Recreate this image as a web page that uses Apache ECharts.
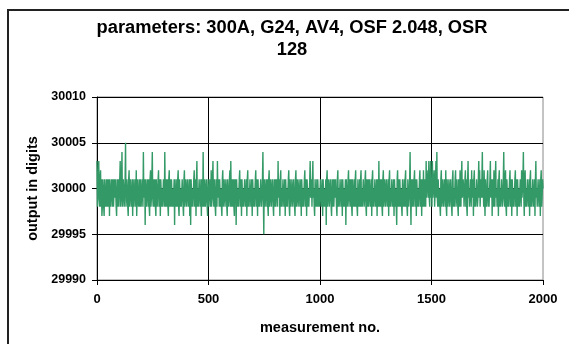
<!DOCTYPE html>
<html>
<head>
<meta charset="utf-8">
<title>parameters: 300A, G24, AV4, OSF 2.048, OSR 128</title>
<script src="https://cdn.jsdelivr.net/npm/echarts@6/dist/echarts.min.js"></script>
<style>
  html, body { margin: 0; padding: 0; background: #fff; }
  #chart { width: 569px; height: 344px; }
</style>
</head>
<body>
<div id="chart"></div>
<script>
// readings as deviation from 30000 digits
const baseline = 30000
const step = 2
// measurements 0, 4, 8 ... 2000
const deviationsEven = [
  3, -1, 3, -2, 2, 1, -2, 0, -3, 1, -1, -2, 1, 0, -3, 1, -2, 0, 1, -2, -1, 1, -3, 0, 1,
  -2, 3, -1, 4, -2, 1, -2, 5, -1, 0, -3, 2, -2, 1, -1, -3, 1, -2, 0, 2, -3, 1, -1, -2, 1,
  -2, 1, 4, -1, -4, 1, -2, 0, 1, -3, 2, -1, 4, -2, 0, 1, -3, 1, -2, 2, -1, -3, 1, 0, -2,
  1, 4, -2, 0, 1, -3, 2, -1, -2, 1, 0, -2, -4, 1, -1, -2, 2, -3, 1, 0, -2, 1, -3, 2, -1,
  0, -2, 1, -1, -3, -4, 1, 0, -2, 2, -1, -3, 3, 0, -2, 1, -1, -3, 1, 4, -2, 0, -1, 1, -3,
  1, -2, 0, 2, -1, 3, -2, 1, -3, 0, 3, -1, -2, 1, 0, -3, 2, -1, 1, -2, 0, -3, 1, -1, 2,
  3, -2, 0, 1, -3, -1, -4, 1, 0, -2, 2, -1, -3, 1, 0, -2, 1, -1, -3, 2, 0, -2, 1, -1, -3,
  1, 0, -2, 2, -1, -3, 1, 0, -2, 1, -1, 4, -5, 1, -2, 0, 1, -3, 2, -1, 0, -2, 1, -3, 0,
  1, -2, 0, 3, -1, -3, 2, 0, -2, 1, -1, -3, 1, 0, -2, 2, -3, 1, -1, 0, -2, 1, -3, 2, -1,
  0, -2, 1, -1, -3, 1, 0, -2, 2, -1, -3, 1, 0, -2, 3, -1, -2, 3, 0, -3, 1, -1, -2, 1, 0,
  -2, 1, -1, -3, 1, 0, -2, -4, 2, -1, 0, -2, 1, -3, 0, 1, -2, -1, 1, -3, 2, 0, -2, 1, -1,
  -3, 1, 0, -2, -4, 1, -1, 2, -2, 0, 1, -3, 1, -1, -2, 2, 0, -3, 1, -1, -2, 2, 0, -2, 1,
  -1, 2, -3, 0, 1, -2, 1, -1, -3, 2, 0, -2, 1, -1, -3, 1, 3, -2, 0, 1, -3, 2, -1, 0, -2,
  1, -1, -3, 2, 0, -2, 1, -1, -3, 1, 0, -4, 2, -1, -2, 1, 0, -3, 1, -1, -2, 2, 0, -3, 1,
  -1, 4, -4, 0, 1, -2, 2, -1, -3, 1, 0, -2, 2, -1, -3, 1, 2, -2, 0, 3, -1, 2, 3, -2, 3,
  1, 3, -1, 2, -2, 3, 4, -2, 1, 0, -3, 2, -1, 1, -2, 0, 2, -3, 1, -1, 0, -2, 1, -3, 2,
  0, -2, 2, -1, 1, -3, 0, 2, -2, 3, -1, 0, -2, 2, 1, -3, 3, 0, -2, 1, 2, -1, -3, 2, 0,
  -2, 1, -1, 3, 2, -2, -1, 4, 0, 2, -3, 1, -1, 2, 0, -2, 3, -1, -3, 1, 2, -2, 3, 0, -1,
  -3, 2, 0, -2, 1, -1, 4, -2, 2, -3, 1, 0, -2, 2, -1, -3, 1, 0, -2, 2, -1, -3, 1, 0, -2,
  1, 2, -1, 4, -3, 2, 0, -2, 1, -1, -3, 2, 0, -2, 1, -1, -3, 3, 0, -2, 1, -1, -3, 2, -1,
  0
]
// measurements 2, 6, 10 ... 1998
const deviationsOdd = [
  -2, 1, -1, 1, -2, -3, 1, -2, 1, -2, 1, 0, -2, 1, 1, -2, 1, -2, -2, 1, 1, -2, 1, -2, -2,
  1, -2, 1, -2, 1, -2, 1, -2, 1, -2, 1, -2, 1, -2, 1, 1, -2, 1, -2, -3, 1, -2, 1, 1, -2,
  1, -2, -1, 1, 1, -2, 1, -2, -2, 1, -2, 1, -1, 1, -2, -2, 1, -2, 1, -2, 1, 1, -2, -2, 1,
  -2, -1, 1, -2, -2, 1, -2, 1, 1, -2, -2, 1, 1, -2, 1, 1, -2, 1, -2, -2, 1, -2, 1, -2, 1,
  -2, 1, -2, 1, 1, 1, -2, -2, 1, -2, 1, 1, -2, -2, 1, -2, 1, 1, -2, -1, 1, -2, 1, -2, 1,
  -2, 1, -2, -2, 1, -1, 1, -2, 1, -2, -1, 1, 1, -2, -2, 1, -2, 1, -2, 1, -2, 1, -2, 1, -2,
  -1, 1, -2, -2, 1, 1, 1, -2, -2, 1, -2, 1, 1, -2, -2, 1, -2, 1, 1, -2, -2, 1, -2, 1, 1,
  -2, -2, 1, -2, 1, 1, -2, -2, 1, -2, 1, -1, 1, -2, 1, -2, -2, 1, -2, 1, -2, 1, -2, 1, -2,
  -2, 1, -2, -1, 1, 1, -2, -2, 1, -2, 1, 1, -2, -2, 1, -2, 1, -2, 1, -2, 1, -2, 1, -2, 1,
  -2, 1, -2, 1, 1, -2, -2, 1, -2, 1, 1, -2, -2, 1, -1, 1, 1, -1, -2, 1, -2, 1, 1, -2, -2,
  1, -2, 1, 1, -2, -2, 1, 1, -2, 1, -2, 1, -2, 1, -2, -2, 1, 1, -2, 1, -2, -2, 1, -2, 1,
  1, -2, -2, 1, 1, -2, 1, -2, 1, -2, -2, 1, -2, 1, 1, -2, -2, 1, -2, 1, 1, -2, -2, 1, -2,
  1, -2, 1, -2, -2, 1, -2, 1, 1, -2, -2, 1, -2, 1, 1, -2, -1, 1, -2, -2, 1, -2, 1, -2, 1,
  -2, 1, 1, -2, -2, 1, -2, 1, 1, -2, -2, 1, -2, 1, 1, -2, -2, 1, -2, 1, 1, -2, -2, 1, -2,
  1, -1, 1, -2, -2, 1, -2, 1, 1, -2, -2, 1, -2, 1, 1, -2, -1, 1, -2, -1, 1, -1, -1, 1, -1,
  -2, -1, 1, -2, 1, -1, -1, 1, -2, -2, 1, -2, 1, -2, 1, -2, -2, 1, -2, 1, -2, 1, -2, 1, -2,
  -2, 1, -2, 1, -2, 1, -2, -1, 1, -1, 1, -2, 1, -2, -2, 1, -1, -2, 1, -2, -1, 1, 1, -2, -2,
  1, -2, 1, -1, -2, 1, 1, -1, -2, -1, 1, -2, 1, -2, -2, 1, -1, 1, 1, -2, -1, 1, -1, -2, 1,
  1, -2, -2, 1, -2, 1, -1, 1, -2, 1, -2, -2, 1, -2, 1, 1, -2, -2, 1, -2, 1, 1, -2, -2, 1,
  -2, -1, 1, -1, 1, -2, -2, 1, -2, 1, 1, -2, -2, 1, -2, 1, 1, -1, -2, 1, -2, 1, 1, -2, 1
]
const yTicks = [29990, 29995, 30000, 30005, 30010]
const xTicks = [0, 500, 1000, 1500, 2000]

const font = 'Liberation Sans, Arial, sans-serif'
const myChart = echarts.init(document.getElementById('chart'))

// [measurement no., output], even and odd readings interleaved
const seriesData = []
for (let i = 0; i < deviationsEven.length; i++) {
  seriesData.push([i * 2 * step, baseline + deviationsEven[i]])
  if (i < deviationsOdd.length) {
    seriesData.push([(i * 2 + 1) * step, baseline + deviationsOdd[i]])
  }
}

const option = {
  animation: false,
  backgroundColor: '#fff',
  title: {
    text: 'parameters: 300A, G24, AV4, OSF 2.048, OSR\n128',
    left: 287,
    top: 12,
    textAlign: 'center',
    textStyle: {
      fontFamily: font,
      fontWeight: 'bold',
      fontSize: 18.3,
      lineHeight: 22,
      color: '#000'
    }
  },
  graphic: [
    {
      // outer chart frame, runs off the right and bottom of the picture
      type: 'rect',
      shape: { x: 8, y: 10, width: 620, height: 400 },
      style: { fill: 'none', stroke: '#222', lineWidth: 2 },
      silent: true
    }
  ],
  grid: {
    left: 97,
    top: 97,
    width: 446,
    height: 183,
    show: true,
    borderColor: '#888',
    borderWidth: 1
  },
  xAxis: {
    type: 'value',
    min: xTicks[0],
    max: xTicks[xTicks.length - 1],
    interval: 500,
    name: 'measurement no.',
    nameLocation: 'middle',
    nameGap: 40,
    nameTextStyle: { fontFamily: font, fontWeight: 'bold', fontSize: 14.5, color: '#000' },
    axisLine: { lineStyle: { color: '#000', width: 1 } },
    axisTick: { show: true, length: 5, lineStyle: { color: '#000' } },
    axisLabel: {
      fontFamily: font, fontWeight: 'bold', fontSize: 13, color: '#000', margin: 13,
      formatter: v => String(v)
    },
    splitLine: { show: true, showMinLine: false, showMaxLine: false, lineStyle: { color: '#000', width: 1 } }
  },
  yAxis: {
    type: 'value',
    min: yTicks[0],
    max: yTicks[yTicks.length - 1],
    interval: 5,
    name: 'output in digits',
    nameLocation: 'middle',
    nameGap: 51,
    nameRotate: 90,
    nameTextStyle: { fontFamily: font, fontWeight: 'bold', fontSize: 14.5, color: '#000' },
    axisLine: { show: true, lineStyle: { color: '#000', width: 1 } },
    axisTick: { show: true, length: 5, lineStyle: { color: '#000' } },
    axisLabel: {
      fontFamily: font, fontWeight: 'bold', fontSize: 12.5, color: '#000', margin: 11,
      formatter: v => String(v)
    },
    splitLine: { show: true, showMinLine: false, lineStyle: { color: '#000', width: 1 } }
  },
  series: [
    {
      type: 'line',
      data: seriesData,
      showSymbol: false,
      sampling: false,
      lineStyle: { color: '#339966', width: 1.4 },
      itemStyle: { color: '#339966' }
    }
  ]
}
myChart.setOption(option)
</script>
</body>
</html>
